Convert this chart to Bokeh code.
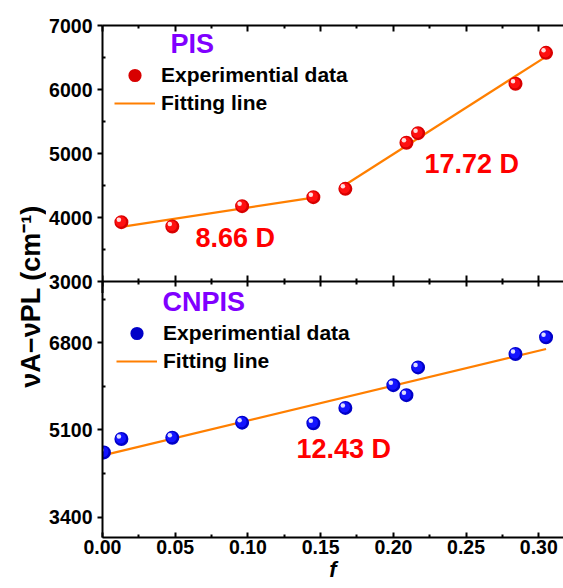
import numpy as np
from bokeh.plotting import figure
from bokeh.layouts import row, column
from bokeh.models import (Range1d, LinearAxis, FixedTicker, Label, Legend, LegendItem,
                          ColumnDataSource, NumeralTickFormatter)
from bokeh.transform import dodge
from bokeh.embed import file_html
from bokeh.resources import INLINE

# Orientation polarizability of the solvents (Lippert-Mataga f)
f_pis = [0.013, 0.048, 0.096, 0.145, 0.167, 0.209, 0.217, 0.284, 0.305]
shift_pis = [3927, 3859, 4177, 4318, 4448, 5167, 5318, 6089, 6573]
pis_low_count = 4  # first four solvents form the low-polarity regime

f_cnpis = [0.001, 0.013, 0.048, 0.096, 0.145, 0.167, 0.200, 0.209, 0.217, 0.284, 0.305]
shift_cnpis = [4662, 4924, 4949, 5243, 5231, 5531, 5976, 5780, 6322, 6584, 6910]

dipole_pis_low = "8.66 D"
dipole_pis_high = "17.72 D"
dipole_cnpis = "12.43 D"

x_ticks = [0.00, 0.05, 0.10, 0.15, 0.20, 0.25, 0.30]
x_minor = [0.025, 0.075, 0.125, 0.175, 0.225, 0.275]
y_ticks_top = [3000, 4000, 5000, 6000, 7000]
y_minor_top = [3500, 4500, 5500, 6500]
y_ticks_bot = [3400, 5100, 6800]
y_minor_bot = [4250, 5950, 7650]
top_lim = (3000, 7000)
bot_lim = (3000, 8000)
x_lim = (0.0, 0.317)

FONT = "Liberation Sans"
ORANGE = "#ff7f00"
TICK_FONT = "19.5px"

# layout in pixels
LABEL_W = 46          # strip holding the rotated y title
PLOT_W = 517
LEFT = 56             # room for the y tick labels
TOP = 25
PANEL_H = 256         # height of each panel
OVER = 12             # the two canvases overlap by this much at the shared border
BOTTOM = 51
FRAME_W = PLOT_W - LEFT

top_h = TOP + PANEL_H + OVER
bot_h = PANEL_H + BOTTOM

# the upper frame runs OVER pixels past its panel; widen its range to keep the scale
top_span = top_lim[1] - top_lim[0]
bot_span = bot_lim[1] - bot_lim[0]
top_range = Range1d(top_lim[0] - top_span * OVER / PANEL_H, top_lim[1])
bot_range = Range1d(*bot_lim)


def make_fig(h, yr, top, bottom):
    f = figure(width=PLOT_W, height=h, x_range=Range1d(*x_lim), y_range=yr,
               output_backend="svg", toolbar_location=None,
               x_axis_location=None, y_axis_location=None,
               min_border_left=LEFT, min_border_right=0, min_border_top=top, min_border_bottom=bottom)
    f.outline_line_color = None
    f.grid.visible = False
    return f


def style_axis(ax):
    ax.axis_line_width = 2
    ax.major_tick_line_width = 2
    ax.minor_tick_line_width = 2
    ax.major_label_text_font = FONT
    ax.major_label_text_font_style = "bold"
    ax.major_label_text_font_size = TICK_FONT
    ax.major_label_text_color = "black"


def ticks_only(ax):
    # tick marks without any labels
    ax.major_label_text_font_size = "0px"
    ax.major_label_text_color = None
    ax.major_label_standoff = 0


def y_axis(fig, ticks, minor):
    ay = LinearAxis(ticker=FixedTicker(ticks=ticks, minor_ticks=minor))
    style_axis(ay)
    ay.major_tick_out, ay.major_tick_in = 5, 0
    ay.minor_tick_out, ay.minor_tick_in = 0, 3
    ay.major_label_standoff = 5
    fig.add_layout(ay, "left")


xt = FixedTicker(ticks=x_ticks, minor_ticks=x_minor)

tp = make_fig(top_h, top_range, TOP, 0)
bt = make_fig(bot_h, bot_range, 0, BOTTOM)
# the lower canvas is see-through and slides up over the end of the upper one
bt.background_fill_color = None
bt.border_fill_color = None
bt.margin = (-OVER, 0, 0, 0)

y_axis(tp, y_ticks_top, y_minor_top)
y_axis(bt, y_ticks_bot, y_minor_bot)

# frame top
a = LinearAxis(ticker=xt)
style_axis(a)
ticks_only(a)
a.major_tick_out, a.major_tick_in = 0, 6
a.minor_tick_out, a.minor_tick_in = 0, 3
tp.add_layout(a, "above")

# border shared by the two panels, ticked towards both
a = LinearAxis(ticker=xt, fixed_location=top_lim[0])
style_axis(a)
ticks_only(a)
a.major_tick_out, a.major_tick_in = 5, 6
a.minor_tick_out, a.minor_tick_in = 3, 3
tp.add_layout(a, "below")

# bottom x axis
ax_b = LinearAxis(ticker=xt, formatter=NumeralTickFormatter(format="0.00"))
style_axis(ax_b)
ax_b.major_tick_out, ax_b.major_tick_in = 0, 5
ax_b.minor_tick_out, ax_b.minor_tick_in = 0, 3
ax_b.major_label_standoff = 2
ax_b.axis_label = "f"
ax_b.axis_label_text_font = FONT
ax_b.axis_label_text_font_style = "bold italic"
ax_b.axis_label_text_font_size = "22px"
ax_b.axis_label_text_color = "black"
ax_b.axis_label_standoff = 0
bt.add_layout(ax_b, "below")

# one pixel in data units, for the sphere shading
DX = (x_lim[1] - x_lim[0]) / FRAME_W
DY_TOP = top_span / PANEL_H
DY_BOT = bot_span / PANEL_H


def spheres(fig, src, dy, dark, mid, light):
    base = fig.scatter("f", "v", source=src, size=12, fill_color=dark,
                       line_color=dark, line_width=2)
    fig.scatter(dodge("f", -0.7 * DX), dodge("v", 0.7 * dy), source=src,
                size=10.5, fill_color=mid, line_color=None)
    fig.scatter(dodge("f", -2.5 * DX), dodge("v", 2.5 * dy), source=src,
                size=4.5, fill_color=light, line_color=None)
    return base


def fit_line(fig, fs, vs):
    k, b = np.polyfit(fs, vs, 1)
    xs = np.array([min(fs), max(fs)])
    return fig.line(xs, k * xs + b, line_color=ORANGE, line_width=2.2)


# upper panel: PIS with two linear regimes
fit_line(tp, f_pis[:pis_low_count], shift_pis[:pis_low_count])
l_top = fit_line(tp, f_pis[pis_low_count:], shift_pis[pis_low_count:])
r_pis = spheres(tp, ColumnDataSource(dict(f=f_pis, v=shift_pis)), DY_TOP, "#d80000", "#ff1010", "#ffdede")

# lower panel: CNPIS
l_bot = fit_line(bt, f_cnpis, shift_cnpis)
r_cn = spheres(bt, ColumnDataSource(dict(f=f_cnpis, v=shift_cnpis)), DY_BOT, "#0000c8", "#1414ff", "#dedeff")


def legend(fig, marker, line, loc):
    lg = Legend(items=[LegendItem(label="Experimential data", renderers=[marker]),
                       LegendItem(label="Fitting line", renderers=[line])],
                location=loc, orientation="vertical")
    lg.label_text_font = FONT
    lg.label_text_font_style = "bold"
    lg.label_text_font_size = "21px"
    lg.label_text_color = "black"
    lg.glyph_width = 41
    lg.glyph_height = 28
    lg.label_height = 20
    lg.label_standoff = 6
    lg.spacing = 0
    lg.padding = 0
    lg.margin = 0
    lg.border_line_color = None
    lg.background_fill_alpha = 0
    fig.add_layout(lg)


top_base = TOP + PANEL_H + OVER   # page y of the upper frame's bottom edge
bot_base = TOP + PANEL_H * 2      # page y of the lower frame's bottom edge

legend(tp, r_pis, l_top, (12, top_base - 117))
legend(bt, r_cn, l_bot, (14, bot_base - 375))


def note(fig, text, sx, sy, color, size="27px"):
    fig.add_layout(Label(x=sx, y=sy, x_units="screen", y_units="screen", text=text,
                         text_font=FONT, text_font_style="bold", text_font_size=size,
                         text_color=color, text_align="left", text_baseline="middle"))


note(tp, "PIS", 68, top_base - 43, "#8000ff")
note(tp, dipole_pis_low, 93, top_base - 237, "#ff0000")
note(tp, dipole_pis_high, 322, top_base - 163, "#ff0000")
note(bt, "CNPIS", 60, bot_base - 301, "#8000ff")
note(bt, dipole_cnpis, 194, bot_base - 448, "#ff0000")

# strip with the shared y title
H_ALL = top_h + bot_h - OVER
lf = figure(width=LABEL_W, height=H_ALL, x_range=Range1d(0, LABEL_W), y_range=Range1d(0, H_ALL),
            output_backend="svg", toolbar_location=None,
            x_axis_location=None, y_axis_location=None, min_border=0)
lf.outline_line_color = None
lf.grid.visible = False
lf.add_layout(Label(x=30, y=H_ALL - 296, text="νA−νPL (cm⁻¹)", angle=np.pi / 2,
                    text_font=FONT, text_font_style="bold", text_font_size="27px",
                    text_color="black", text_align="center", text_baseline="middle"))

layout = row(lf, column(tp, bt, spacing=0), spacing=0)
open("out.html", "w").write(file_html(layout, INLINE))
